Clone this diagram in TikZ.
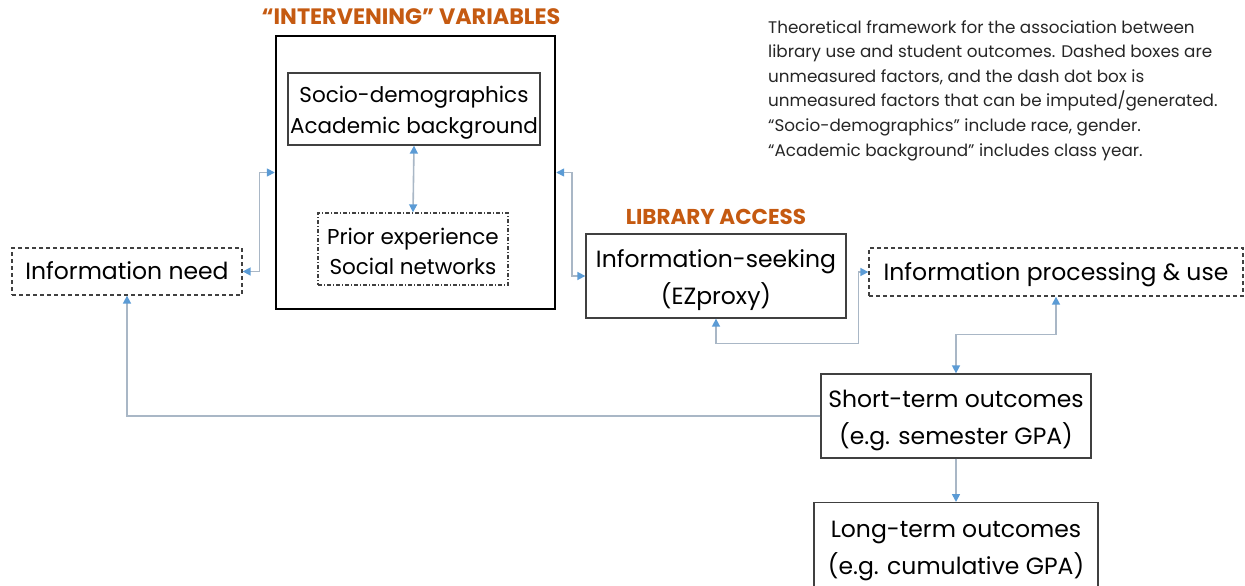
\documentclass[tikz,border=0pt]{standalone}
\usepackage{fontspec}
\setmainfont{Poppins}
\usepackage{tikz}
\usetikzlibrary{arrows.meta, positioning}

\definecolor{tipblue}{HTML}{5B9BD5}
\definecolor{linkgrey}{HTML}{A9B7C6}
\definecolor{headorange}{HTML}{C55A11}
\definecolor{boxgrey}{HTML}{404040}
\definecolor{notegrey}{HTML}{262626}

% pushes the first line of a box down a little
\newcommand{\lift}[1]{\rule{0pt}{#1}}

\begin{document}
\begin{tikzpicture}[x=1pt, y=-1pt, >={Triangle[color=tipblue, length=8pt, width=8pt]}, line join=miter]
        \tikzstyle{box} = [rectangle, draw=boxgrey, line width=1.3pt, inner sep=0pt, align=center, font=\fontsize{23.5}{37}\selectfont]
        \tikzstyle{unmeasured} = [box, dash pattern=on 4pt off 3pt, text height=21pt, text depth=5pt]
        \tikzstyle{imputed} = [box, dash pattern=on 4pt off 2pt on 1pt off 2pt, font=\fontsize{21.5}{30.5}\selectfont]
        \tikzstyle{heading} = [text=headorange, font=\fontsize{22.3}{26}\selectfont\bfseries]
        \tikzstyle{link} = [draw=linkgrey, line width=1.6pt]

        \useasboundingbox (0,0) rectangle (1245,586);

        % boxes
        \node[unmeasured, minimum width=230, minimum height=47] (need) at (127,271.5) {Information need};
        \node[box, draw=black, line width=2.4pt, minimum width=279, minimum height=273] (interv) at (415.5,172.5) {};
        \node[box, minimum width=252, minimum height=72, font=\fontsize{21.5}{30.5}\selectfont] (socio) at (414,109) {\lift{24pt}Socio-demographics\\Academic background};
        \node[imputed, minimum width=190, minimum height=72] (prior) at (413,249) {\lift{21pt}Prior experience\\Social networks};
        \node[box, minimum width=260, minimum height=84] (seek) at (716,276) {\lift{26.5pt}Information-seeking\\(EZproxy)};
        \node[unmeasured, minimum width=374, minimum height=48] (proc) at (1056,272) {Information processing \& use};
        \node[box, minimum width=270, minimum height=84] (short) at (956,416) {\lift{26.5pt}Short-term outcomes\\(e.g. semester GPA)};
        \node[box, anchor=north, minimum width=284, minimum height=92] (long) at (956,502) {\lift{21pt}Long-term outcomes\\(e.g. cumulative GPA)};

        % headings
        \node[heading] (intervhead) at (411,17) {“INTERVENING” VARIABLES};
        \node[heading, font=\fontsize{21.5}{26}\selectfont\bfseries] (libhead) at (716,217) {LIBRARY ACCESS};

        % note
        \node[anchor=north west, inner sep=0pt, align=left, text=notegrey, font=\fontsize{16.8}{24.6}\selectfont] (note) at (768,20) {Theoretical framework for the association between\\
            library use and student outcomes. Dashed boxes are\\
            unmeasured factors, and the dash dot box is\\
            unmeasured factors that can be imputed/generated.\\
            “Socio-demographics” include race, gender.\\
            “Academic background” includes class year.};

        % connectors
        \draw[link, <->] (need.east) -- ++(17,0) |- (interv.west);
        \draw[link, <->] (interv.east) -- ++(16,0) |- (seek.west);
        \draw[link, <->] (socio.south) -- (prior.north);
        \draw[link, <->] (seek.south) -- ++(0,25) -| ([xshift=-10pt]proc.west) -- (proc.west);
        \draw[link, <->] (proc.south) -- ++(0,38) -| (short.north);
        \draw[link, ->] (short.west) -| (need.south);
        \draw[link, ->] (short.south) -- (long.north);
\end{tikzpicture}
\end{document}
